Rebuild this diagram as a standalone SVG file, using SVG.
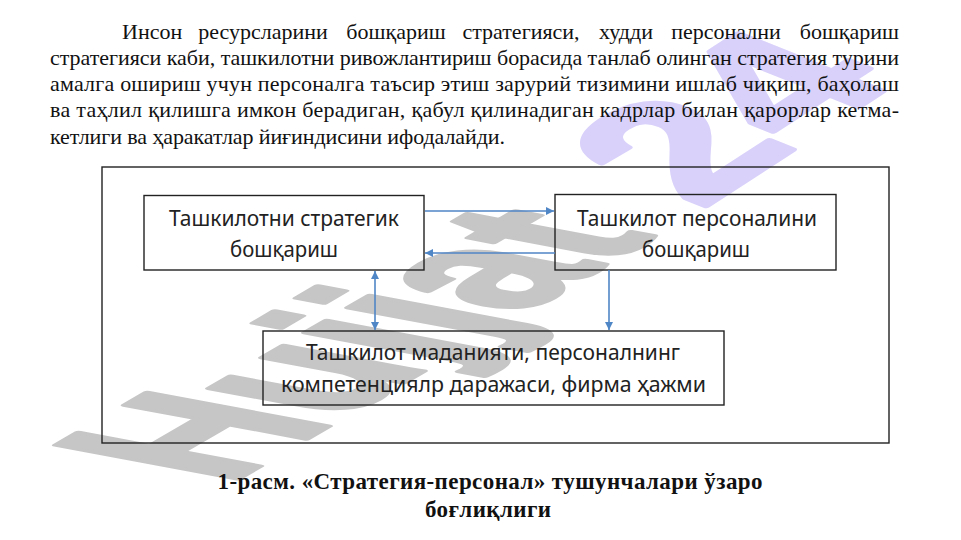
<svg xmlns="http://www.w3.org/2000/svg" width="961" height="540" viewBox="0 0 961 540">
  <style>
    .para { font-family: "Liberation Serif", "Times New Roman", serif; font-size: 22px; fill: #111; }
    .mid { text-anchor: middle; }
    .cap { font-family: "Liberation Serif", "Times New Roman", serif; font-size: 23px; font-weight: bold; fill: #111; }
    .box { fill: none; stroke: #222; stroke-width: 1.4; }
    .lbl { font-family: "Noto Sans", "Open Sans", sans-serif; font-size: 21px; fill: #222; text-anchor: middle; }
    .wm { font-family: "Liberation Sans", Arial, sans-serif; font-weight: bold; font-size: 100px; stroke-width: 3; stroke-linejoin: round; }
    .conn { stroke: #4f86c6; stroke-width: 1.6; fill: none; }
  </style>
  <defs>
    <marker id="ah" viewBox="0 0 10 10" refX="10" refY="5" markerWidth="8" markerHeight="8" markerUnits="userSpaceOnUse" orient="auto-start-reverse">
      <path d="M0,0 L10,5 L0,10 z" fill="#4f86c6"/>
    </marker>
  </defs>
  <rect width="961" height="540" fill="#ffffff"/>

  <!-- watermark -->
  <g id="watermark">
    <text class="wm" fill="#c6c6c6" stroke="#c6c6c6" transform="matrix(1.55,-0.9,2.63,0.49,227,485)">Hujjat</text>
    <text class="wm" fill="#d9d1fa" stroke="#d9d1fa" transform="matrix(1.8,-1.17,2.1,0.84,700,210)">24</text>
  </g>

  <!-- paragraph -->
  <g id="paragraph">
    <text class="para" x="122" y="38.5">Инсон</text>
    <text class="para mid" x="263" y="38.5">ресурсларини</text>
    <text class="para mid" x="396" y="38.5">бошқариш</text>
    <text class="para mid" x="521" y="38.5">стратегияси,</text>
    <text class="para mid" x="626" y="38.5">худди</text>
    <text class="para mid" x="726" y="38.5">персонални</text>
    <text class="para" x="899" y="38.5" text-anchor="end">бошқариш</text>
    <text class="para" x="50" y="64.8" textLength="849" lengthAdjust="spacing">стратегияси каби, ташкилотни ривожлантириш борасида танлаб олинган стратегия турини</text>
    <text class="para" x="50" y="91.1" textLength="849" lengthAdjust="spacing">амалга ошириш учун персоналга таъсир этиш зарурий тизимини ишлаб чиқиш, баҳолаш</text>
    <text class="para" x="50" y="117.4" textLength="849" lengthAdjust="spacing">ва таҳлил қилишга имкон берадиган, қабул қилинадиган кадрлар билан қарорлар кетма-</text>
    <text class="para" x="50" y="143.7" textLength="455" lengthAdjust="spacing">кетлиги ва ҳаракатлар йиғиндисини ифодалайди.</text>
  </g>

  <!-- frame -->
  <rect id="frame" x="102" y="167" width="787" height="276" class="box"/>

  <g id="node-strategic">
    <rect x="144" y="195.5" width="280" height="74.5" class="box"/>
    <text class="lbl" x="284" y="226" textLength="230" lengthAdjust="spacingAndGlyphs">Ташкилотни стратегик</text>
    <text class="lbl" x="284" y="257" textLength="108" lengthAdjust="spacingAndGlyphs">бошқариш</text>
  </g>

  <g id="node-personnel">
    <rect x="555" y="194.5" width="281" height="75.5" class="box"/>
    <text class="lbl" x="697" y="226" textLength="240" lengthAdjust="spacingAndGlyphs">Ташкилот персоналини</text>
    <text class="lbl" x="696" y="257" textLength="108" lengthAdjust="spacingAndGlyphs">бошқариш</text>
  </g>

  <g id="node-culture">
    <rect x="263" y="331" width="461" height="74" class="box"/>
    <text class="lbl" x="493" y="360" textLength="374" lengthAdjust="spacingAndGlyphs">Ташкилот маданияти, персоналнинг</text>
    <text class="lbl" x="493.5" y="392" textLength="425" lengthAdjust="spacingAndGlyphs">компетенциялр даражаси, фирма ҳажми</text>
  </g>

  <g id="connectors">
    <line class="conn" x1="425" y1="211" x2="554" y2="211" marker-end="url(#ah)"/>
    <line class="conn" x1="555" y1="253" x2="425" y2="253" marker-end="url(#ah)"/>
    <line class="conn" x1="375" y1="271" x2="375" y2="330" marker-start="url(#ah)" marker-end="url(#ah)"/>
    <line class="conn" x1="609" y1="270" x2="609" y2="330" marker-end="url(#ah)"/>
  </g>

  <g id="caption">
    <text class="cap" x="490" y="489" text-anchor="middle" textLength="545" lengthAdjust="spacing">1-расм. «Стратегия-персонал» тушунчалари ўзаро</text>
    <text class="cap" x="488" y="517" text-anchor="middle" textLength="126" lengthAdjust="spacing">боғлиқлиги</text>
  </g>
</svg>
